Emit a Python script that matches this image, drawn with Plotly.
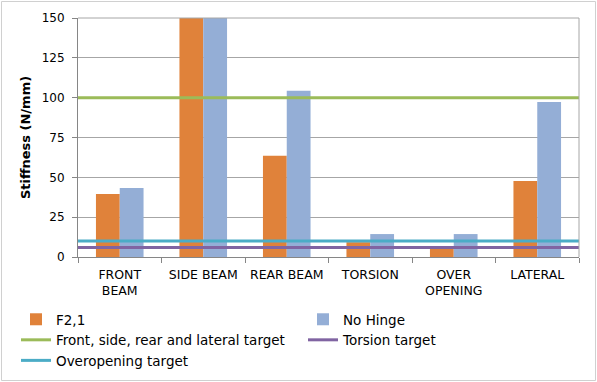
import plotly.graph_objects as go

categories = ["FRONT<br>BEAM", "SIDE BEAM", "REAR BEAM", "TORSION", "OVER<br>OPENING", "LATERAL"]
f21 = [39.5, 150, 63.6, 9.3, 6.5, 47.7]
no_hinge = [43.3, 150, 104.4, 14.4, 14.4, 97.3]
target_names = ["Front, side, rear and lateral target", "Torsion target", "Overopening target"]
target_values = [100, 6, 10]
target_colors = ["#9BBB59", "#8064A2", "#4BACC6"]
y_ticks = [0, 25, 50, 75, 100, 125, 150]

FONT = "DejaVu Sans"

fig = go.Figure()
fig.add_trace(go.Bar(x=categories, y=f21, name="F2,1", marker=dict(color="#E0823A", line=dict(width=0))))
fig.add_trace(go.Bar(x=categories, y=no_hinge, name="No Hinge", marker=dict(color="#94AED6", line=dict(width=0))))
for n, v, c in zip(target_names, target_values, target_colors):
    fig.add_trace(go.Scatter(x=[0, 1], y=[v, v], name=n, mode="lines",
                             line=dict(color=c, width=3), xaxis="x2", yaxis="y"))

W, H = 597, 382
L, R, T, B = 78, 18, 18, 125
pw, ph = W - L - R, H - T - B

def px_x(p):
    return (p - L) / pw

def px_y(p):
    return (H - B - p) / ph

fig.update_layout(
    width=W, height=H,
    margin=dict(l=L, r=R, t=T, b=B, autoexpand=False),
    paper_bgcolor="white", plot_bgcolor="white",
    font=dict(family=FONT, size=12, color="#000000"),
    barmode="group", bargap=0.43, bargroupgap=0,
    showlegend=True,
    legend=dict(orientation="h", x=px_x(16), y=px_y(304), xanchor="left", yanchor="top",
                entrywidth=242, entrywidthmode="pixels", traceorder="normal",
                font=dict(family=FONT, size=13.5), itemwidth=30, tracegroupgap=0),
    xaxis=dict(type="category", showgrid=False, showline=True, linecolor="#868686", linewidth=1,
               ticks="outside", tickson="boundaries", ticklen=5, tickcolor="#868686",
               ticklabelstandoff=6,
               tickfont=dict(family=FONT, size=12.5)),
    xaxis2=dict(overlaying="x", range=[0, 1], visible=False),
    yaxis=dict(range=[0, 150], tickvals=y_ticks, showgrid=True, gridcolor="#A6A6A6", gridwidth=1,
               showline=True, linecolor="#868686", linewidth=1, ticks="outside", ticklen=5,
               tickcolor="#868686", zeroline=False, ticklabelstandoff=5,
               tickfont=dict(family=FONT, size=12),
               title=dict(text="<b>Stiffness (N/mm)</b>", font=dict(family=FONT, size=13), standoff=8)),
    shapes=[dict(type="line", xref="paper", yref="paper", x0=0, x1=1, y0=1, y1=1,
                 line=dict(color="#A6A6A6", width=1)),
            dict(type="line", xref="paper", yref="paper", x0=1, x1=1, y0=0, y1=1,
                 line=dict(color="#A6A6A6", width=1)),
            dict(type="rect", xref="paper", yref="paper", x0=px_x(1.5), x1=px_x(595.5),
                 y0=px_y(380.5), y1=px_y(1.5), line=dict(color="#D0D0D0", width=1))],
)

fig.write_html("out.html")
